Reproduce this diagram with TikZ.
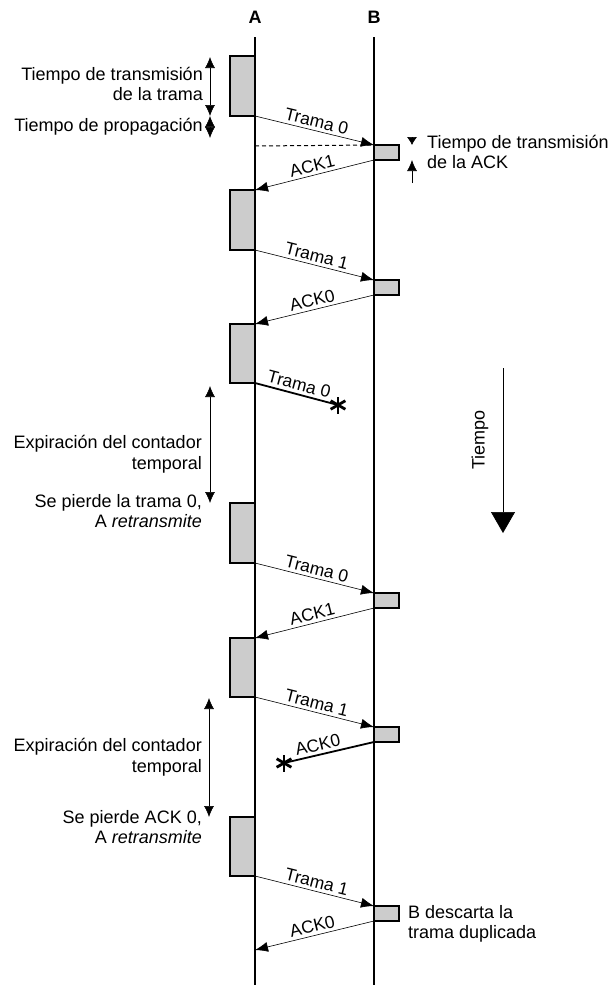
\documentclass[tikz,border=0pt]{standalone}
\usepackage{fontspec}
\setmainfont{Liberation Sans}
\usetikzlibrary{arrows.meta}

\begin{document}
\begin{tikzpicture}[x=1pt, y=-1pt, font=\fontsize{18}{20.5}\selectfont,
    frame/.style={draw, line width=1.3pt, fill=black!20},
    msg/.style={-{Latex[length=13pt,width=10pt]}, line width=0.6pt},
    lost/.style={line width=1.8pt},
    span/.style={{Latex[length=11pt,width=10pt]}-{Latex[length=11pt,width=10pt]}, line width=0.6pt},
    lbl/.style={above, sloped, inner sep=3pt, font=\fontsize{17.5}{20}\selectfont},
    note/.style={anchor=east, align=right, inner sep=0pt},
    rnote/.style={anchor=west, align=left, inner sep=0pt}]
  \useasboundingbox (0,0) rectangle (614,985);
  \pgfmathsetmacro{\xA}{255}
  \pgfmathsetmacro{\xB}{374}
  % transmission intervals at A and B
  \foreach \t/\b in {56/116, 190/250, 324/383, 503/563, 638/697, 817/876}
    \draw[frame] (230,\t) rectangle (\xA,\b);
  \foreach \t in {145, 280, 593, 727, 906}
    \draw[frame] (\xB,\t) rectangle (399,\t+15);
  % stations and time lines
  \node[font=\fontsize{18}{20}\selectfont\bfseries] (A) at (\xA,17) {A};
  \node[font=\fontsize{18}{20}\selectfont\bfseries] (B) at (\xB,17) {B};
  \coordinate (Atop) at (\xA,37);
  \coordinate (Abot) at (\xA,985);
  \coordinate (Btop) at (\xB,37);
  \coordinate (Bbot) at (\xB,985);
  \draw[line width=1.5pt] (Atop) -- (Abot);
  \draw[line width=1.5pt] (Btop) -- (Bbot);
  % frames from A to B
  \foreach \ys/\yr/\txt [count=\i] in {116/145/Trama 0, 250/280/Trama 1,
      563/593/Trama 0, 697/727/Trama 1, 876/906/Trama 1}{
    \coordinate (fs\i) at (\xA,\ys);
    \coordinate (fr\i) at (\xB,\yr);
    \draw[msg] (fs\i) -- node[lbl] {\txt} (fr\i);
  }
  % acknowledgements from B to A
  \foreach \ys/\yr/\txt [count=\i] in {160/190/ACK1, 295/324/ACK0,
      608/638/ACK1, 921/950/ACK0}{
    \coordinate (ks\i) at (\xB,\ys);
    \coordinate (kr\i) at (\xA,\yr);
    \draw[msg] (ks\i) -- node[lbl] {\txt} (kr\i);
  }
  % propagation reference
  \coordinate (p0) at (\xA,146);
  \draw[line width=1pt, dash pattern=on 4pt off 3pt] (p0) -- (fr1);
  % lost frame and lost ACK
  \coordinate (l1s) at (\xA,383);
  \coordinate (l1e) at (338,405);
  \draw[lost] (l1s) -- node[lbl] {Trama 0} (l1e);
  \coordinate (l2s) at (\xB,742);
  \coordinate (l2e) at (284,763);
  \draw[lost] (l2s) -- node[lbl, pos=0.6] {ACK0} (l2e);
  \foreach \p in {l1e, l2e}
    \foreach \a in {90, 30, 150}
      \draw[line width=2.8pt] (\p) ++(\a:8.5) -- ++(\a+180:17);
  % time spans on the left
  \coordinate (t1) at (210,57);
  \coordinate (t2) at (210,116);
  \coordinate (t3) at (210,138);
  \draw[span] (t1) -- (t2);
  \draw[span] (t2) -- (t3);
  \node[note] (ttx) at (203,84) {Tiempo de transmisión\\de la trama};
  \node[note] (tprop) at (203,127) {Tiempo de propagación};
  \coordinate (e1) at (210,386);
  \coordinate (e2) at (210,503);
  \draw[span] (e1) -- (e2);
  \node[note] (exp1) at (202,454) {Expiración del contador\\temporal};
  \node[note] (ret1) at (202,511) {Se pierde la trama 0,\\A \textit{retransmite}};
  \coordinate (e3) at (209,698);
  \coordinate (e4) at (209,817);
  \draw[span] (e3) -- (e4);
  \node[note] (exp2) at (202,757) {Expiración del contador\\temporal};
  \node[note] (ret2) at (202,827) {Se pierde ACK 0,\\A \textit{retransmite}};
  % ACK transmission time
  \coordinate (k0) at (412,137);
  \coordinate (k1) at (412,145);
  \coordinate (k2) at (412,160);
  \coordinate (k3) at (412,183);
  \draw[-{Latex[length=8pt,width=10pt]}, line width=0.6pt] (k0) -- (k1);
  \draw[-{Latex[length=11pt,width=10pt]}, line width=0.7pt] (k3) -- (k2);
  \node[rnote] (tack) at (427,152) {Tiempo de transmisión\\de la ACK};
  % duplicate frame
  \node[rnote] (dup) at (408,924) {B descarta la\\trama duplicada};
  % time axis
  \coordinate (T0) at (503,368);
  \coordinate (T1) at (503,533);
  \draw[line width=0.6pt, -{Triangle[length=21pt,width=24pt]}] (T0) -- (T1);
  \node[rotate=90] (tiempo) at (480,440) {Tiempo};
\end{tikzpicture}
\end{document}
